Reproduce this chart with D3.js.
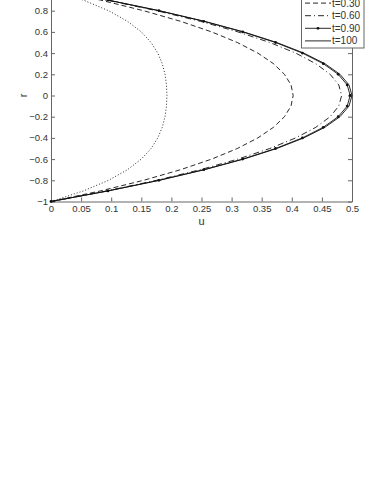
<!DOCTYPE html>
<html>
<head>
<meta charset="utf-8">
<script src="https://cdn.jsdelivr.net/npm/d3@7"></script>
<style>
  html, body { margin: 0; padding: 0; background: #fff; }
  svg { display: block; }
  text { font-family: "Liberation Sans", Arial, sans-serif; fill: #333; }
</style>
</head>
<body>
<div id="canvas"></div>
<script>
// radial positions (same grid for every curve)
const rValues = [-1, -0.9, -0.8, -0.7, -0.6, -0.5, -0.4, -0.3, -0.2, -0.1, 0,
                 0.1, 0.2, 0.3, 0.4, 0.5, 0.6, 0.7, 0.8, 0.9, 1];

// velocity u at each r
const u010 = [0, 0.0539, 0.0956, 0.1270, 0.1500, 0.1663, 0.1774, 0.1848, 0.1894, 0.1918, 0.1926,
              0.1918, 0.1894, 0.1848, 0.1774, 0.1663, 0.1500, 0.1270, 0.0956, 0.0539, 0];
const u030 = [0, 0.0823, 0.1538, 0.2152, 0.2669, 0.3095, 0.3436, 0.3696, 0.3878, 0.3987, 0.4023,
              0.3987, 0.3878, 0.3696, 0.3436, 0.3095, 0.2669, 0.2152, 0.1538, 0.0823, 0];
const u060 = [0, 0.0928, 0.1754, 0.2480, 0.3106, 0.3635, 0.4065, 0.4399, 0.4637, 0.4780, 0.4828,
              0.4780, 0.4637, 0.4399, 0.4065, 0.3635, 0.3106, 0.2480, 0.1754, 0.0928, 0];
const u090 = [0, 0.0946, 0.1792, 0.2538, 0.3184, 0.3730, 0.4176, 0.4523, 0.4771, 0.4920, 0.4970,
              0.4920, 0.4771, 0.4523, 0.4176, 0.3730, 0.3184, 0.2538, 0.1792, 0.0946, 0];
const u100 = [0, 0.095, 0.18, 0.255, 0.32, 0.375, 0.42, 0.455, 0.48, 0.495, 0.5,
              0.495, 0.48, 0.455, 0.42, 0.375, 0.32, 0.255, 0.18, 0.095, 0];

const seriesNames = ["t=0.10", "t=0.30", "t=0.60", "t=0.90", "t=100"];
const seriesValues = [u010, u030, u060, u090, u100];

const xTicks = [0, 0.05, 0.1, 0.15, 0.2, 0.25, 0.3, 0.35, 0.4, 0.45, 0.5];
const yTicks = [-1, -0.8, -0.6, -0.4, -0.2, 0, 0.2, 0.4, 0.6, 0.8, 1];

const width = 374;
const height = 484;
const dashes = ["1,2", "5,3", "6,3,1,3", null, null];

const svg = d3.select("#canvas").append("svg")
  .attr("width", width)
  .attr("height", height);

const x = d3.scaleLinear().domain([0, 0.5]).range([51, 352]);
const y = d3.scaleLinear().domain([-1, 1]).range([201.5, -10.5]);

// axes box with inward ticks, MATLAB style
const axisColor = "#666";
const fmt = d => d3.format("")(d);

const gB = svg.append("g").attr("transform", `translate(0,${y(-1)})`)
  .call(d3.axisBottom(x).tickValues(xTicks).tickSizeInner(-4).tickSizeOuter(0).tickPadding(4).tickFormat(fmt));
const gT = svg.append("g").attr("transform", `translate(0,${y(1)})`)
  .call(d3.axisTop(x).tickValues(xTicks).tickSizeInner(-4).tickSizeOuter(0).tickFormat(""));
const gL = svg.append("g").attr("transform", `translate(${x(0)},0)`)
  .call(d3.axisLeft(y).tickValues(yTicks).tickSizeInner(-4).tickSizeOuter(0).tickPadding(4).tickFormat(fmt));
const gR = svg.append("g").attr("transform", `translate(${x(0.5)},0)`)
  .call(d3.axisRight(y).tickValues(yTicks).tickSizeInner(-4).tickSizeOuter(0).tickFormat(""));

[gB, gT, gL, gR].forEach(g => {
  g.select(".domain").attr("stroke", axisColor);
  g.selectAll(".tick line").attr("stroke", axisColor);
  g.selectAll(".tick text")
    .attr("fill", "#333")
    .style("font-family", '"Liberation Sans", Arial, sans-serif')
    .style("font-size", "9.5px");
});
gL.selectAll(".tick text").attr("dx", "1");

// axis labels
svg.append("text")
  .attr("x", x(0.25))
  .attr("y", 225)
  .attr("text-anchor", "middle")
  .style("font-size", "11px")
  .text("u");

svg.append("text")
  .attr("transform", `translate(27,${y(0)}) rotate(-90)`)
  .attr("text-anchor", "middle")
  .style("font-size", "11px")
  .text("r");

// curves
const line = d3.line()
  .x(d => x(d[0]))
  .y(d => y(d[1]));

seriesValues.forEach((vals, i) => {
  const pts = vals.map((v, k) => [v, rValues[k]]);
  svg.append("path")
    .datum(pts)
    .attr("fill", "none")
    .attr("stroke", "#111")
    .attr("stroke-width", 0.9)
    .attr("stroke-dasharray", dashes[i])
    .attr("d", line);
  if (i === 3) {
    svg.selectAll(".mk")
      .data(pts)
      .enter().append("circle")
      .attr("cx", d => x(d[0]))
      .attr("cy", d => y(d[1]))
      .attr("r", 1.4)
      .attr("fill", "#111");
  }
});

// legend
const lg = svg.append("g");
const legendTop = -22;
const rowH = 12.6;
lg.append("rect")
  .attr("x", 301.5)
  .attr("y", legendTop)
  .attr("width", 62.5)
  .attr("height", 48 - legendTop)
  .attr("fill", "#fff")
  .attr("stroke", axisColor);

seriesNames.forEach((name, i) => {
  const yy = -9.5 + i * rowH;
  lg.append("line")
    .attr("x1", 305).attr("x2", 331)
    .attr("y1", yy).attr("y2", yy)
    .attr("stroke", "#111")
    .attr("stroke-width", 0.9)
    .attr("stroke-dasharray", dashes[i]);
  if (i === 3) {
    lg.append("circle").attr("cx", 318).attr("cy", yy).attr("r", 1.4).attr("fill", "#111");
  }
  lg.append("text")
    .attr("x", 332)
    .attr("y", yy + 3.5)
    .style("font-size", "10px")
    .text(name);
});
</script>
</body>
</html>
